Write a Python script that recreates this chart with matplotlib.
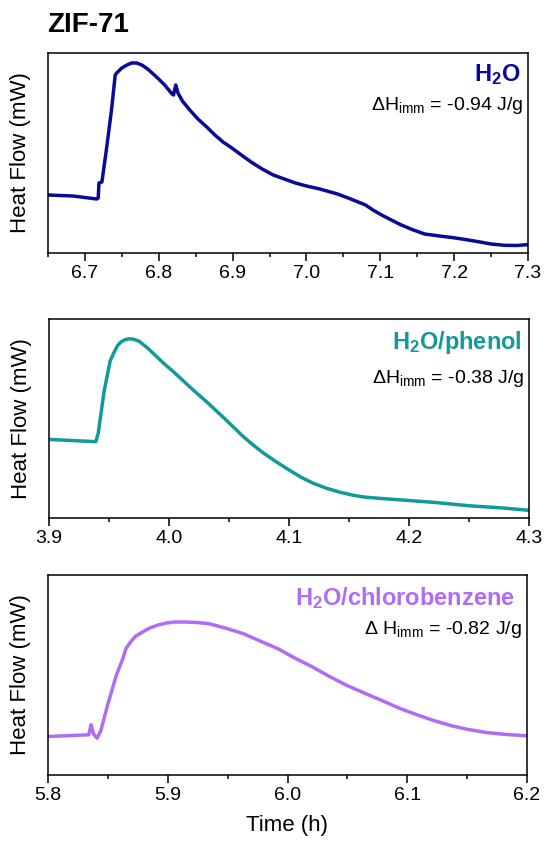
import matplotlib
matplotlib.use("Agg")
import matplotlib.pyplot as plt
from matplotlib.ticker import MultipleLocator

plt.rcParams['font.family'] = ['Liberation Sans', 'DejaVu Sans']
plt.rcParams['mathtext.fontset'] = 'custom'
plt.rcParams['mathtext.rm'] = 'Liberation Sans'
plt.rcParams['mathtext.it'] = 'Liberation Sans:italic'
plt.rcParams['mathtext.bf'] = 'Liberation Sans:bold'

# --- data (heat flow in arbitrary units) ---
h2o_t = [6.65, 6.684, 6.716, 6.718, 6.719, 6.723, 6.729, 6.736, 6.741, 6.743,
         6.750, 6.757, 6.763, 6.770, 6.777, 6.785, 6.797, 6.808, 6.818, 6.820,
         6.823, 6.826, 6.832, 6.842, 6.853, 6.865, 6.876, 6.887, 6.899, 6.910,
         6.925, 6.940, 6.955, 6.970, 6.985, 7.000, 7.018, 7.030, 7.042, 7.060,
         7.080, 7.090, 7.103, 7.115, 7.127, 7.143, 7.160, 7.180, 7.197, 7.215,
         7.235, 7.250, 7.268, 7.285, 7.30]
h2o_q = [58, 57, 54, 55, 70, 71, 103, 143, 178, 180,
         185, 188, 190, 190, 188, 184, 176, 168, 159, 158,
         168, 160, 152, 143, 134, 126, 118, 111, 105, 99,
         91, 84, 78, 74, 70, 67, 64, 61.5, 59, 54,
         48, 43, 37.5, 33, 28.5, 23.5, 19, 17, 15.5, 13.5,
         11, 9, 7.7, 7.5, 8.4]

phenol_t = [3.90, 3.939, 3.941, 3.946, 3.951, 3.954, 3.957, 3.960, 3.963, 3.966,
            3.969, 3.972, 3.975, 3.982, 3.989, 3.996, 4.004, 4.018, 4.033, 4.048,
            4.062, 4.070, 4.079, 4.090, 4.100, 4.110, 4.120, 4.131, 4.143, 4.153,
            4.163, 4.178, 4.192, 4.221, 4.250, 4.279, 4.30]
phenol_q = [79, 76.7, 85, 128, 158, 166, 173, 177, 179, 180,
            180, 179, 177.7, 171, 163, 155, 146.7, 131, 115, 98,
            81.7, 73.5, 65, 56, 48.3, 41, 35, 30, 25.7, 23,
            21, 19.5, 18.3, 15.7, 12.3, 10, 7.7]

clbz_t = [5.80, 5.834, 5.836, 5.838, 5.841, 5.844, 5.850, 5.857, 5.863, 5.865,
          5.869, 5.873, 5.879, 5.885, 5.892, 5.899, 5.906, 5.914, 5.924, 5.934,
          5.948, 5.963, 5.977, 5.992, 6.006, 6.021, 6.035, 6.050, 6.065, 6.079,
          6.093, 6.108, 6.122, 6.137, 6.151, 6.166, 6.183, 6.20]
clbz_q = [38.5, 40.2, 50.3, 41, 36.8, 44, 71, 99.5, 118, 126.3,
          133, 138.7, 143, 147, 150, 152, 153, 153, 152.5, 151.4,
          147, 141.4, 134, 126.3, 117, 108, 98.5, 89.4, 81.5, 74.4,
          67, 60.3, 54.5, 49.2, 45.5, 42.5, 40.5, 39.2]

panels = [
    dict(t=h2o_t, q=h2o_q, xlim=(6.65, 7.3), color='#0a0a9a',
         name=r'H$_{\mathbf{2}}$O', dh=r'ΔH$_{\mathrm{imm}}$ = -0.94 J/g',
         rect=[48 / 545, 1 - 253 / 850, 480 / 545, 200 / 850],
         name_xy=(0.985, 0.89), dh_xy=(0.99, 0.735)),
    dict(t=phenol_t, q=phenol_q, xlim=(3.9, 4.3), color='#14999a',
         name=r'H$_{\mathbf{2}}$O/phenol', dh=r'ΔH$_{\mathrm{imm}}$ = -0.38 J/g',
         rect=[49 / 545, 1 - 518 / 850, 480 / 545, 199 / 850],
         name_xy=(0.985, 0.88), dh_xy=(0.99, 0.70)),
    dict(t=clbz_t, q=clbz_q, xlim=(5.8, 6.2), color='#b16cf6',
         name=r'H$_{\mathbf{2}}$O/chlorobenzene', dh=r'Δ H$_{\mathrm{imm}}$ = -0.82 J/g',
         rect=[48 / 545, 1 - 775 / 850, 479 / 545, 200 / 850],
         name_xy=(0.975, 0.885), dh_xy=(0.99, 0.725)),
]

fig = plt.figure(figsize=(5.45, 8.5), dpi=100)

for i, p in enumerate(panels):
    ax = fig.add_axes(p['rect'])
    ax.plot(p['t'], p['q'], color=p['color'], linewidth=2.5,
            solid_joinstyle='round')
    ax.set_xlim(*p['xlim'])
    ax.set_ylim(0, 200)
    ax.set_yticks([])
    ax.xaxis.set_major_locator(MultipleLocator(0.1))
    ax.xaxis.set_minor_locator(MultipleLocator(0.05))
    ax.xaxis.set_major_formatter(lambda v, pos: f'{v:.1f}')
    ax.tick_params(axis='x', which='major', direction='out', length=5.5,
                   width=1.1, labelsize=14, pad=3)
    ax.tick_params(axis='x', which='minor', direction='out', length=3, width=1.1)
    for s in ax.spines.values():
        s.set_linewidth(1.1)
    ax.set_ylabel('Heat Flow (mW)', fontsize=16, labelpad=12)
    ax.text(*p['name_xy'], p['name'], transform=ax.transAxes, ha='right',
            va='center', fontsize=17, fontweight='bold', color=p['color'])
    ax.text(*p['dh_xy'], p['dh'], transform=ax.transAxes, ha='right',
            va='center', fontsize=14)
    if i == 2:
        ax.set_xlabel('Time (h)', fontsize=16, labelpad=8)

fig.text(47 / 545, 1 - 25 / 850, 'ZIF-71', fontsize=20, fontweight='bold',
         ha='left', va='center')

fig.savefig('out.png', dpi=100)
